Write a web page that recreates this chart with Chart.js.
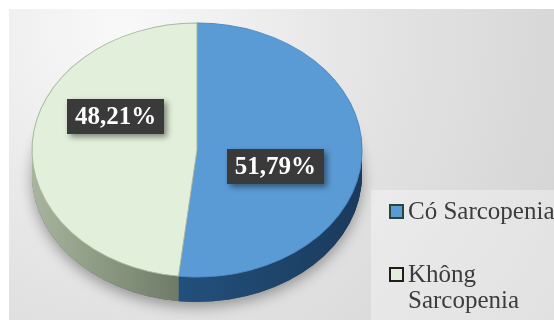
<!DOCTYPE html>
<html><head><meta charset="utf-8">
<script src="https://cdn.jsdelivr.net/npm/chart.js@4/dist/chart.umd.min.js"></script>
<style>html,body{margin:0;padding:0;background:#fff;}canvas{display:block}</style>
</head><body>
<canvas id="c" width="554" height="320"></canvas>
<script>
// ---- data ----
const categories = ['Có Sarcopenia', 'Không Sarcopenia'];
const values = [51.79, 48.21];
const topColors = ['#5b9bd5', '#e2efda'];
const edgeColors = ['#4f8cc6', '#a9b99e'];
const markerBorders = ['#27453a', '#1e1e1e'];

// ---- style / layout ----
const ELL = {cx: 197, cy: 150, rx: 165, ry: 127, depth: 25};
const labelNudge = [[-4, 13], [1, -30]];
const fmt = v => v.toFixed(2).replace('.', ',') + '%';

function ellTransform(ctx, el) {
  const sx = ELL.rx / el.outerRadius, sy = ELL.ry / el.outerRadius;
  ctx.translate(ELL.cx, ELL.cy);
  ctx.scale(sx, sy);
  ctx.translate(-el.x, -el.y);
}

const pie3d = {
  id: 'pie3d',
  beforeDraw(chart) {
    const ctx = chart.ctx;
    ctx.save();
    ctx.fillStyle = '#ffffff';
    ctx.fillRect(0, 0, 554, 320);
    const g = ctx.createRadialGradient(120, 30, 10, 120, 30, 520);
    g.addColorStop(0, '#f8f8f8');
    g.addColorStop(0.5, '#e3e3e3');
    g.addColorStop(1, '#d2d2d2');
    ctx.fillStyle = g;
    ctx.fillRect(9, 9, 545, 311);
    ctx.fillStyle = 'rgba(255,255,255,0.35)';
    ctx.fillRect(371, 190, 183, 130);
    ctx.restore();
  },
  beforeDatasetsDraw(chart) {
    const ctx = chart.ctx;
    const arcs = chart.getDatasetMeta(0).data;
    const el = arcs[0];
    const r = el.outerRadius;
    // shadow under the pie
    ctx.save();
    ctx.shadowColor = 'rgba(0,0,0,0.35)';
    ctx.shadowBlur = 14;
    ctx.shadowOffsetY = 5;
    ctx.translate(0, ELL.depth);
    ellTransform(ctx, el);
    ctx.beginPath();
    ctx.arc(el.x, el.y, r, 0, Math.PI * 2);
    ctx.fillStyle = '#556';
    ctx.fill();
    ctx.restore();
    // side gradients (in circle space)
    const gB = ctx.createLinearGradient(el.x - r, 0, el.x + r, 0);
    gB.addColorStop(0, '#24527f');
    gB.addColorStop(0.45, '#22507c');
    gB.addColorStop(1, '#1b3a5c');
    const gG = ctx.createLinearGradient(el.x - r, 0, el.x + r, 0);
    gG.addColorStop(0, '#a8b49d');
    gG.addColorStop(0.15, '#95a28a');
    gG.addColorStop(0.45, '#6d7a66');
    gG.addColorStop(1, '#6d7a66');
    const sides = [gB, gG];
    for (let d = ELL.depth; d >= 1; d--) {
      ctx.save();
      ctx.translate(0, d);
      ellTransform(ctx, el);
      arcs.forEach((a, i) => {
        ctx.beginPath();
        ctx.moveTo(a.x, a.y);
        ctx.arc(a.x, a.y, a.outerRadius, a.startAngle, a.endAngle);
        ctx.closePath();
        ctx.fillStyle = sides[i];
        ctx.fill();
      });
      ctx.restore();
    }
    // top surface transform for the library's own arc drawing
    ctx.save();
    ellTransform(ctx, el);
  },
  afterDatasetsDraw(chart) {
    chart.ctx.restore();
  },
  afterDraw(chart) {
    const ctx = chart.ctx;
    const arcs = chart.getDatasetMeta(0).data;
    const vals = chart.data.datasets[0].data;
    // value labels
    arcs.forEach((a, i) => {
      const mid = (a.startAngle + a.endAngle) / 2;
      const x = ELL.cx + Math.cos(mid) * 0.5 * ELL.rx + labelNudge[i][0];
      const y = ELL.cy + Math.sin(mid) * 0.5 * ELL.ry + labelNudge[i][1];
      const txt = fmt(vals[i]);
      ctx.save();
      ctx.font = 'bold 25px "Liberation Serif", "Times New Roman", serif';
      const w = ctx.measureText(txt).width + 16;
      const h = 35;
      ctx.shadowColor = 'rgba(0,0,0,0.45)';
      ctx.shadowBlur = 6;
      ctx.shadowOffsetX = 3;
      ctx.shadowOffsetY = 3;
      ctx.fillStyle = '#3a3a3a';
      ctx.fillRect(Math.round(x - w / 2), Math.round(y - h / 2), Math.round(w), h);
      ctx.shadowColor = 'transparent';
      ctx.fillStyle = '#ffffff';
      ctx.textAlign = 'center';
      ctx.textBaseline = 'middle';
      ctx.fillText(txt, x, y + 1);
      ctx.restore();
    });
    // legend
    const bg = chart.data.datasets[0].backgroundColor;
    const itemBase = [219, 282];
    ctx.save();
    ctx.font = '25px "Liberation Serif", "Times New Roman", serif';
    ctx.textBaseline = 'alphabetic';
    ctx.textAlign = 'left';
    chart.data.labels.forEach((lab, i) => {
      const by = itemBase[i];
      ctx.fillStyle = bg[i];
      ctx.fillRect(390, by - 14, 13, 13);
      ctx.strokeStyle = markerBorders[i];
      ctx.lineWidth = 2;
      ctx.strokeRect(390, by - 14, 13, 13);
      ctx.fillStyle = '#3c3c3c';
      let lines = [lab];
      if (ctx.measureText(lab).width > 155) {
        const parts = lab.split(' ');
        lines = [parts[0], parts.slice(1).join(' ')];
      }
      lines.forEach((ln, k) => ctx.fillText(ln, 408, by + k * 26));
    });
    ctx.restore();
  }
};

new Chart(document.getElementById('c'), {
  type: 'pie',
  data: {
    labels: categories,
    datasets: [{
      data: values,
      backgroundColor: topColors,
      borderColor: edgeColors,
      borderWidth: 1,
      clip: false
    }]
  },
  options: {
    responsive: false,
    animation: false,
    events: [],
    layout: {padding: {left: 32, right: 192, top: 0, bottom: 0}},
    plugins: {legend: {display: false}, tooltip: {enabled: false}}
  },
  plugins: [pie3d]
});
</script>
</body></html>
